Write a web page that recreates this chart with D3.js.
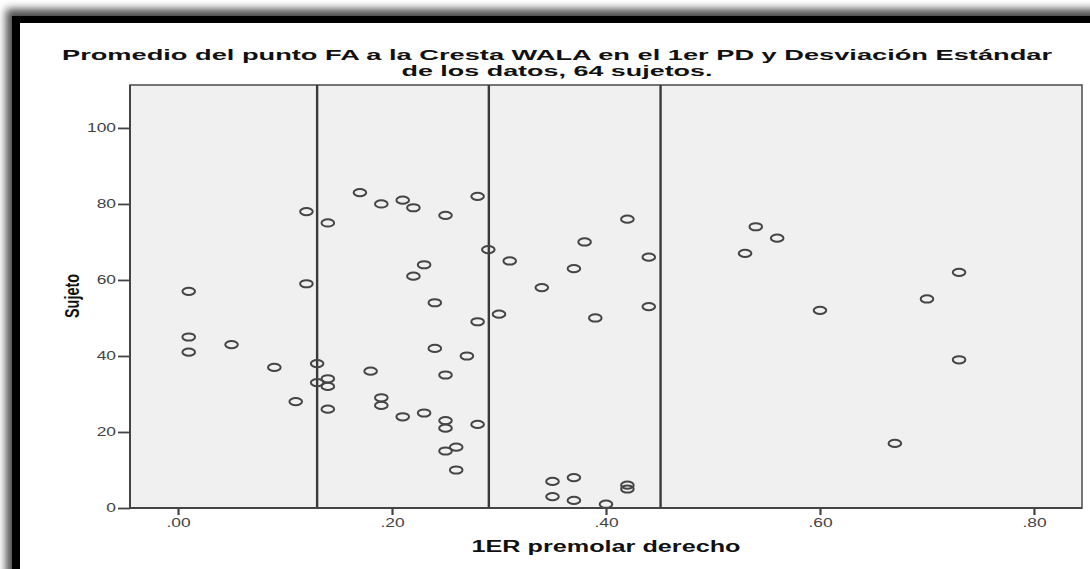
<!DOCTYPE html>
<html>
<head>
<meta charset="utf-8">
<script src="https://cdn.jsdelivr.net/npm/d3@7"></script>
<style>
  body { margin: 0; background: #fff; }
  svg { display: block; font-family: "Liberation Sans", Arial, sans-serif; }
</style>
</head>
<body>
<div id="graphicContainer"></div>
<script>

// premolar value (x) and subject number (y)
var premolar = [0.01, 0.01, 0.01, 0.05, 0.09, 0.11, 0.12, 0.12, 0.13, 0.13,
	0.14, 0.14, 0.14, 0.14, 0.17, 0.18, 0.19, 0.19, 0.19, 0.21,
	0.21, 0.22, 0.22, 0.23, 0.23, 0.24, 0.24, 0.25, 0.25, 0.25,
	0.25, 0.25, 0.26, 0.26, 0.27, 0.28, 0.28, 0.28, 0.29, 0.30,
	0.31, 0.34, 0.35, 0.35, 0.37, 0.37, 0.37, 0.38, 0.39, 0.40,
	0.42, 0.42, 0.42, 0.44, 0.44, 0.53, 0.54, 0.56, 0.60, 0.67,
	0.70, 0.73, 0.73]

var sujeto = [57, 45, 41, 43, 37, 28, 78, 59, 38, 33,
	75, 34, 32, 26, 83, 36, 80, 29, 27, 81,
	24, 79, 61, 64, 25, 54, 42, 77, 35, 23,
	21, 15, 16, 10, 40, 82, 49, 22, 68, 51,
	65, 58, 7, 3, 63, 8, 2, 70, 50, 1,
	76, 6, 5, 66, 53, 67, 74, 71, 52, 17,
	55, 62, 39]

// mean and mean +/- 1 SD lines
var media = 0.2905
var desviacion = 0.1605
var refLines = [media - desviacion, media, media + desviacion]

var xTicks = [0, 0.2, 0.4, 0.6, 0.8]
var yTicks = [0, 20, 40, 60, 80, 100]

var titleLines = ["Promedio del punto FA a la Cresta WALA en el 1er PD y Desviación Estándar",
	"de los datos, 64 sujetos."]
var xTitle = "1ER premolar derecho"
var yTitle = "Sujeto"

function init() {

	var width = 1090
	var height = 569

	// the original picture is stretched sideways, so text gets a horizontal stretch
	var stretch = 1.45

	var svg = d3.select("#graphicContainer").append("svg")
		.attr("width", width)
		.attr("height", height)

	var defs = svg.append("defs")
	defs.append("filter")
		.attr("id", "blur")
		.attr("x", "-10%").attr("y", "-10%")
		.attr("width", "130%").attr("height", "130%")
		.append("feGaussianBlur")
		.attr("stdDeviation", 4)

	// black frame with soft shadow
	svg.append("rect")
		.attr("x", 6).attr("y", 9)
		.attr("width", 1200).attr("height", 700)
		.attr("fill", "#000")
		.attr("opacity", 0.7)
		.attr("filter", "url(#blur)")

	svg.append("rect")
		.attr("x", 12).attr("y", 16)
		.attr("width", 1200).attr("height", 700)
		.attr("fill", "#000")

	svg.append("rect")
		.attr("x", 20).attr("y", 23)
		.attr("width", 1200).attr("height", 700)
		.attr("fill", "#fff")

	var plot = {left: 130, right: 1082, top: 85, bottom: 508}

	var x = d3.scaleLinear()
		.domain([-0.0449, 0.8449])
		.range([plot.left, plot.right])

	var y = d3.scaleLinear()
		.domain([0, 111.3])
		.range([plot.bottom, plot.top])

	// plot background
	svg.append("rect")
		.attr("x", plot.left).attr("y", plot.top)
		.attr("width", plot.right - plot.left)
		.attr("height", plot.bottom - plot.top)
		.attr("fill", "#f0f0f0")
		.attr("stroke", "#555")
		.attr("stroke-width", 1.6)

	// mean and SD lines
	svg.append("g")
		.selectAll("line")
		.data(refLines)
		.enter()
		.append("line")
		.attr("x1", d => x(d)).attr("x2", d => x(d))
		.attr("y1", plot.top).attr("y2", plot.bottom)
		.attr("stroke", "#3a3a3a")
		.attr("stroke-width", 2.4)

	// points
	var points = premolar.map((d, i) => ({x: d, y: sujeto[i]}))

	svg.append("g")
		.selectAll("ellipse")
		.data(points)
		.enter()
		.append("ellipse")
		.attr("cx", d => x(d.x))
		.attr("cy", d => y(d.y))
		.attr("rx", 6.3)
		.attr("ry", 3.6)
		.attr("fill", "none")
		.attr("stroke", "#454545")
		.attr("stroke-width", 2)

	// y axis
	var yAxis = svg.append("g")
		.attr("transform", "translate(" + plot.left + ",0)")
		.call(d3.axisLeft(y).tickValues(yTicks).tickSize(12).tickSizeOuter(0))

	yAxis.select(".domain").remove()
	yAxis.selectAll(".tick line").attr("stroke", "#444").attr("stroke-width", 1.8)
	yAxis.selectAll(".tick text")
		.attr("x", null)
		.attr("transform", "translate(-14,0) scale(" + stretch + ",1)")
		.attr("fill", "#444")
		.style("font-size", "12px")

	// x axis
	var xAxis = svg.append("g")
		.attr("transform", "translate(0," + plot.bottom + ")")
		.call(d3.axisBottom(x)
			.tickValues(xTicks)
			.tickSize(7)
			.tickSizeOuter(0)
			.tickFormat(d => d3.format(".2f")(d).replace(/^0/, "")))

	xAxis.select(".domain").remove()
	xAxis.selectAll(".tick line").attr("stroke", "#444").attr("stroke-width", 2.2)
	xAxis.selectAll(".tick text")
		.attr("y", null)
		.attr("dy", null)
		.attr("transform", "translate(0,19) scale(" + stretch + ",1)")
		.attr("fill", "#444")
		.style("font-size", "12px")

	// redraw axis lines on top
	svg.append("line")
		.attr("x1", plot.left).attr("x2", plot.left)
		.attr("y1", plot.top).attr("y2", plot.bottom)
		.attr("stroke", "#444").attr("stroke-width", 2)
	svg.append("line")
		.attr("x1", plot.left).attr("x2", plot.right)
		.attr("y1", plot.bottom).attr("y2", plot.bottom)
		.attr("stroke", "#444").attr("stroke-width", 2)

	// title
	svg.append("text")
		.attr("x", 557).attr("y", 60)
		.attr("text-anchor", "middle")
		.attr("font-weight", "bold")
		.attr("font-size", 15.5)
		.attr("fill", "#111")
		.attr("textLength", 990)
		.attr("lengthAdjust", "spacingAndGlyphs")
		.text(titleLines[0])

	svg.append("text")
		.attr("x", 557).attr("y", 76)
		.attr("text-anchor", "middle")
		.attr("font-weight", "bold")
		.attr("font-size", 15.5)
		.attr("fill", "#111")
		.attr("textLength", 311)
		.attr("lengthAdjust", "spacingAndGlyphs")
		.text(titleLines[1])

	// axis titles
	svg.append("text")
		.attr("x", 606).attr("y", 552)
		.attr("text-anchor", "middle")
		.attr("font-weight", "bold")
		.attr("font-size", 16)
		.attr("fill", "#111")
		.attr("textLength", 269)
		.attr("lengthAdjust", "spacingAndGlyphs")
		.text(xTitle)

	svg.append("text")
		.attr("transform", "translate(79,296) scale(1.45,1) rotate(-90)")
		.attr("text-anchor", "middle")
		.attr("font-weight", "bold")
		.attr("font-size", 14)
		.attr("fill", "#111")
		.attr("textLength", 44)
		.attr("lengthAdjust", "spacingAndGlyphs")
		.text(yTitle)

}

init()
</script>
</body>
</html>
